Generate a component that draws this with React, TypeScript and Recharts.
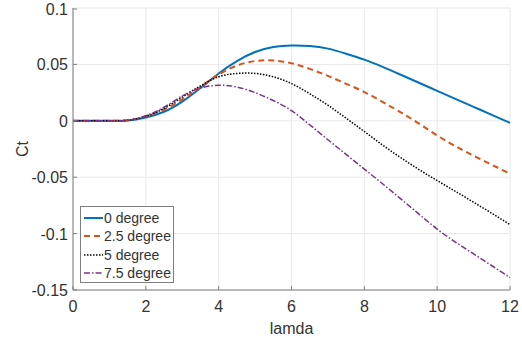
import React from "react";
import { LineChart, Line, XAxis, YAxis, CartesianGrid, Legend } from "recharts";

// tip speed ratio samples
const lamda = [0, 0.5, 1, 1.5, 2, 2.5, 3, 3.5, 4, 4.5, 5, 5.5, 6, 6.5, 7, 7.5, 8, 8.5, 9, 9.5, 10, 10.5, 11, 11.5, 12];

// thrust coefficient per pitch angle
const ct0 = [0, 0, 0, 0.0003, 0.003, 0.008, 0.017, 0.029, 0.042, 0.053, 0.061, 0.0655, 0.0668, 0.0663, 0.064, 0.0595, 0.0542, 0.0478, 0.0408, 0.0337, 0.0266, 0.0195, 0.0124, 0.0053, -0.0018];
const ct25 = [0, 0, 0, 0.0005, 0.004, 0.01, 0.019, 0.03, 0.041, 0.049, 0.053, 0.0535, 0.051, 0.046, 0.0398, 0.0328, 0.0255, 0.0168, 0.0075, -0.0025, -0.013, -0.0225, -0.031, -0.039, -0.047];
const ct5 = [0, 0, 0, 0.0005, 0.004, 0.011, 0.021, 0.031, 0.039, 0.042, 0.042, 0.039, 0.033, 0.024, 0.0138, 0.0023, -0.0095, -0.0215, -0.0327, -0.0432, -0.053, -0.0625, -0.0722, -0.082, -0.092];
const ct75 = [0, 0, 0, 0.0005, 0.0045, 0.012, 0.022, 0.029, 0.0315, 0.03, 0.025, 0.018, 0.009, -0.0035, -0.0168, -0.0298, -0.0428, -0.0558, -0.0692, -0.0827, -0.096, -0.1075, -0.118, -0.1285, -0.139];

const xTicks = [0, 2, 4, 6, 8, 10, 12];
const yTicks = [-0.15, -0.1, -0.05, 0, 0.05, 0.1];

const data = lamda.map((l, i) => ({ lamda: l, a0: ct0[i], a25: ct25[i], a5: ct5[i], a75: ct75[i] }));

const series = [
  { key: "a0", name: "0 degree", color: "#0072BD", width: 2, dash: undefined },
  { key: "a25", name: "2.5 degree", color: "#D95319", width: 2, dash: "6 4" },
  { key: "a5", name: "5 degree", color: "#000000", width: 1.5, dash: "1.5 1.5" },
  { key: "a75", name: "7.5 degree", color: "#7E2F8E", width: 1.5, dash: "6 2 1.5 2" },
];

const FONT = "'Liberation Sans', Arial, Helvetica, sans-serif";
const AXIS = "#7f7f7f";
const TEXT = "#333333";

const BottomTick = (p: any) => (
  <g>
    <line x1={p.x} x2={p.x} y1={p.y} y2={p.y - 4} stroke={AXIS} />
    <text x={p.x} y={p.y + 22} textAnchor="middle" fontSize={16} fill={TEXT} fontFamily={FONT}>
      {p.payload.value}
    </text>
  </g>
);
const TopTick = (p: any) => <line x1={p.x} x2={p.x} y1={p.y} y2={p.y + 4} stroke={AXIS} />;
const LeftTick = (p: any) => (
  <g>
    <line x1={p.x} x2={p.x + 4} y1={p.y} y2={p.y} stroke={AXIS} />
    <text x={p.x - 5} y={p.y + 6} textAnchor="end" fontSize={16} fill={TEXT} fontFamily={FONT}>
      {p.payload.value}
    </text>
  </g>
);
const RightTick = (p: any) => <line x1={p.x} x2={p.x - 4} y1={p.y} y2={p.y} stroke={AXIS} />;

const LegendBox = () => (
  <div
    style={{
      width: 94,
      height: 77,
      boxSizing: "border-box",
      border: `1px solid ${AXIS}`,
      background: "#fff",
      padding: "2px 0 0 2px",
      fontFamily: FONT,
      fontSize: 14,
      color: TEXT,
    }}
  >
    {series.map((s) => (
      <div key={s.key} style={{ display: "flex", alignItems: "center", height: 18.3 }}>
        <svg width={21} height={10}>
          <line x1={1} x2={20} y1={5} y2={5} stroke={s.color} strokeWidth={s.width} strokeDasharray={s.dash} />
        </svg>
        <span style={{ lineHeight: "16px" }}>{s.name}</span>
      </div>
    ))}
  </div>
);

export default function App() {
  return (
    <div style={{ width: 522, height: 342, background: "#fff" }}>
      <style>{`body{margin:0}`}</style>
      <LineChart width={522} height={342} data={data} margin={{ top: 8, right: 12, left: 0, bottom: 0 }}>
        <CartesianGrid stroke="#e8e8e8" strokeWidth={1} />
        <XAxis
          dataKey="lamda"
          type="number"
          domain={[0, 12]}
          ticks={xTicks}
          height={52}
          stroke={AXIS}
          tickLine={false}
          tickSize={0}
          tickMargin={0}
          tick={<BottomTick />}
          label={(lp: any) => {
            const vb = lp.viewBox;
            return (
              <text x={vb.x + vb.width / 2} y={334} textAnchor="middle" fontSize={16} fill={TEXT} fontFamily={FONT}>
                lamda
              </text>
            );
          }}
        />
        <XAxis
          xAxisId="top"
          orientation="top"
          dataKey="lamda"
          type="number"
          domain={[0, 12]}
          ticks={xTicks}
          height={0}
          stroke={AXIS}
          tickLine={false}
          tickSize={0}
          tickMargin={0}
          tick={<TopTick />}
        />
        <YAxis
          type="number"
          domain={[-0.15, 0.1]}
          ticks={yTicks}
          width={73}
          stroke={AXIS}
          tickLine={false}
          tickSize={0}
          tickMargin={0}
          tick={<LeftTick />}
          label={(lp: any) => {
            const vb = lp.viewBox;
            const cx = 22;
            const cy = vb.y + vb.height / 2;
            return (
              <text x={cx} y={cy} transform={`rotate(-90, ${cx}, ${cy})`} textAnchor="middle" dy={6} fontSize={16} fill={TEXT} fontFamily={FONT}>
                Ct
              </text>
            );
          }}
        />
        <YAxis
          yAxisId="right"
          orientation="right"
          type="number"
          domain={[-0.15, 0.1]}
          ticks={yTicks}
          width={0}
          stroke={AXIS}
          tickLine={false}
          tickSize={0}
          tickMargin={0}
          tick={<RightTick />}
        />
        {series.map((s) => (
          <Line
            key={s.key}
            type="natural"
            dataKey={s.key}
            name={s.name}
            stroke={s.color}
            strokeWidth={s.width}
            strokeDasharray={s.dash}
            dot={false}
            isAnimationActive={false}
          />
        ))}
        <Legend
          layout="vertical"
          align="center"
          verticalAlign="middle"
          content={<LegendBox />}
          wrapperStyle={{ left: 80, top: 206, width: 94, height: 77 }}
        />
      </LineChart>
    </div>
  );
}
